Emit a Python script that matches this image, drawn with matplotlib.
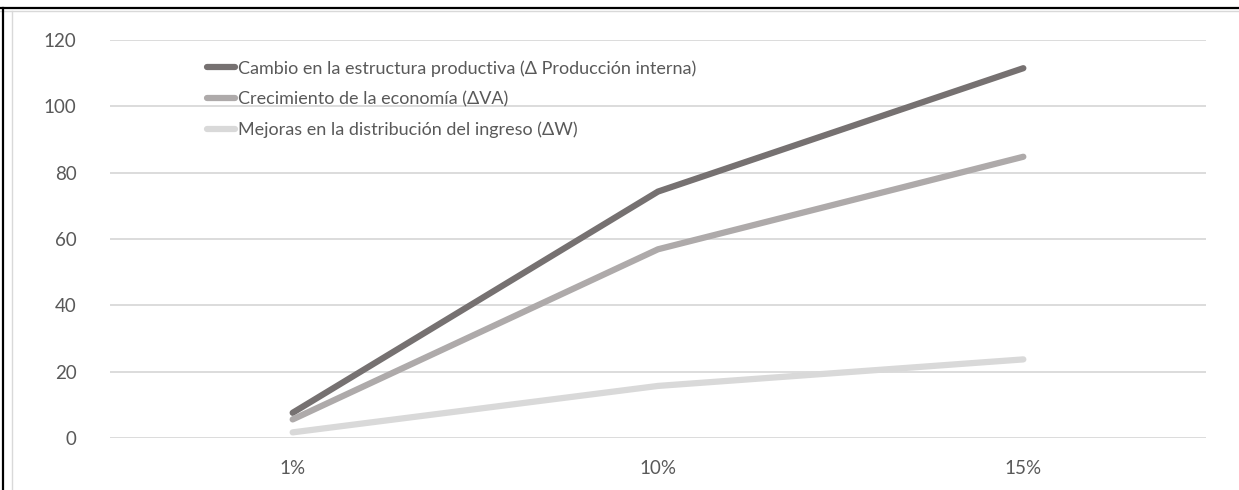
import matplotlib
matplotlib.use("Agg")
import matplotlib.pyplot as plt
from matplotlib.lines import Line2D

# data
categories = ["1%", "10%", "15%"]
produccion = [7.6, 74.3, 111.5]
economia = [5.6, 56.9, 84.8]
distribucion = [1.7, 15.7, 23.7]
labels = [
    "Cambio en la estructura productiva (Δ Producción interna)",
    "Crecimiento de la economía (ΔVA)",
    "Mejoras en la distribución del ingreso (ΔW)",
]
colors = ["#767171", "#AEAAAA", "#D9D9D9"]
yticks = [0, 20, 40, 60, 80, 100, 120]

plt.rcParams["font.family"] = ["Lato", "DejaVu Sans"]

W, H = 1239, 490
fig = plt.figure(figsize=(W / 100, H / 100), dpi=100)

ax = fig.add_axes([110 / W, 1 - 438 / H, 1096 / W, 398 / H])
x = list(range(len(categories)))
for vals, c, lab in zip([produccion, economia, distribucion], colors, labels):
    ax.plot(x, vals, color=c, lw=4.5, solid_capstyle="round",
            solid_joinstyle="miter", label=lab, zorder=3)

ax.set_xlim(-0.5, len(categories) - 0.5)
ax.set_ylim(0, 120)
ax.set_yticks(yticks)
ax.set_xticks(x)
ax.set_xticklabels(categories)
ax.grid(axis="y", color="#D9D9D9", lw=1.3, zorder=0)
for s in ax.spines.values():
    s.set_visible(False)
ax.tick_params(axis="both", length=0, labelsize=13.5, colors="#595959")
ax.tick_params(axis="y", pad=24)
ax.tick_params(axis="x", pad=16)

handles = [Line2D([], [], color=c, lw=4.5, solid_capstyle="round") for c in colors]
leg = fig.legend(handles, labels, loc="upper left",
                 bbox_to_anchor=(207 / W, 1 - 60 / H), frameon=False,
                 fontsize=13.0, handlelength=1.55, handletextpad=0.17,
                 labelspacing=0.8, borderpad=0, borderaxespad=0)
for t in leg.get_texts():
    t.set_color("#595959")

# frame of the page: black top and left rules, grey chart border
fig.add_artist(Line2D([0, 1], [1 - 8 / H, 1 - 8 / H], color="black", lw=1.6,
                      transform=fig.transFigure))
fig.add_artist(Line2D([0, 1], [1 - 11 / H, 1 - 11 / H], color="#D9D9D9", lw=1.0,
                      transform=fig.transFigure))
fig.add_artist(Line2D([3 / W, 3 / W], [0, 1 - 8 / H], color="black", lw=1.6,
                      transform=fig.transFigure))
fig.add_artist(Line2D([12 / W, 12 / W], [0, 1 - 11 / H], color="#D9D9D9", lw=1.0,
                      transform=fig.transFigure))

fig.savefig("out.png", dpi=100)
